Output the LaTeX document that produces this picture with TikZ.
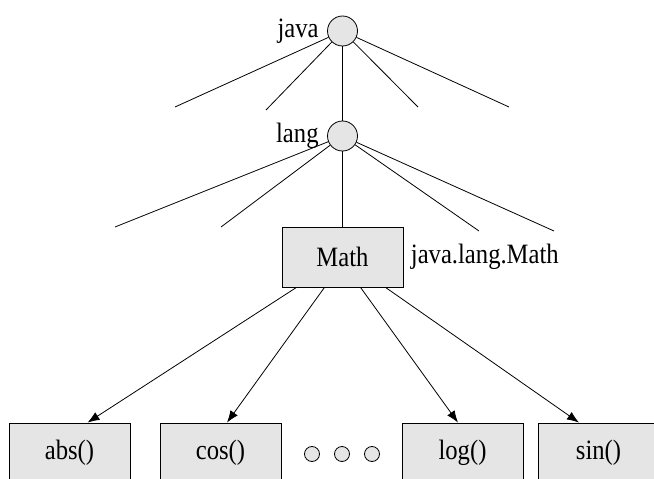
\documentclass[tikz,border=0pt]{standalone}
\usepackage{fontspec}
\setmainfont{Liberation Serif}[FakeStretch=0.88]
\usepackage{tikz}
\usetikzlibrary{shapes.geometric, arrows.meta}
\tikzstyle{pkg} = [circle, draw, thick, fill=gray!20, minimum size=30pt, inner sep=0pt]
\tikzstyle{cls} = [rectangle, text centered, draw, thick, fill=gray!20, minimum width=121pt, minimum height=60pt]
\tikzstyle{dot} = [circle, draw, thick, fill=gray!20, minimum size=15pt, inner sep=0pt]
\tikzstyle{arrow} = [line width=0.8pt,-{Latex[length=12pt,width=9pt]}]
\tikzstyle{branch} = [line width=0.8pt]

\begin{document}
\begin{tikzpicture}[x=1pt, y=-1pt, node distance=105pt, font=\fontsize{28}{32}\selectfont]
  \useasboundingbox (0,0) rectangle (654,479);

  \node (java) [pkg] at (342.5,31) {};
  \node (lang) [pkg, below of=java] {};
  \node (math) [cls, below of=lang, yshift=-16pt] {Math};
  \node [left=5pt] at (java.west) {java};
  \node [left=5pt] at (lang.west) {lang};
  \node [right=4pt] at (math.east) {java.lang.Math};

  % loose ends of the package tree
  \coordinate (j1) at (175,107);
  \coordinate (j2) at (266,110);
  \coordinate (j3) at (418,107);
  \coordinate (j4) at (509,107);
  \coordinate (l1) at (115,227);
  \coordinate (l2) at (221,227);
  \coordinate (l3) at (479,231);
  \coordinate (l4) at (554,231);
  \foreach \e in {j1,j2,j3,j4}
    \draw [branch] (java) -- (\e);
  \foreach \e in {l1,l2,l3,l4}
    \draw [branch] (lang) -- (\e);
  \draw [branch] (java) -- (lang);
  \draw [branch] (lang) -- (math);

  % methods
  \node (abs) [cls] at (69.5,453) {abs()};
  \node (cos) [cls] at (220.5,453) {cos()};
  \node (log) [cls] at (462.5,453) {log()};
  \node (sin) [cls] at (598.5,453) {sin()};
  \node (d1) [dot] at (312,454) {};
  \node (d2) [dot] at (342,454) {};
  \node (d3) [dot] at (372,454) {};

  \draw [arrow] ([xshift=-46pt]math.south) -- ([xshift=18pt]abs.north);
  \draw [arrow] ([xshift=-18pt]math.south) -- ([xshift=6.5pt]cos.north);
  \draw [arrow] ([xshift=18pt]math.south) -- ([xshift=-4.5pt]log.north);
  \draw [arrow] ([xshift=43pt]math.south) -- ([xshift=-19.5pt]sin.north);
\end{tikzpicture}
\end{document}
